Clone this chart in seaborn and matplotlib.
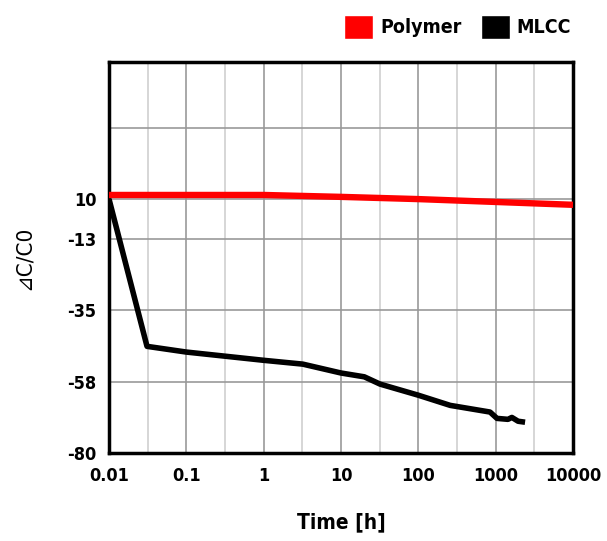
import numpy as np
import pandas as pd
import matplotlib
matplotlib.use("Agg")
import matplotlib.pyplot as plt
import seaborn as sns
from matplotlib.patches import Patch

# -------------------------------------------------------
# Data
# -------------------------------------------------------

polymer_time = [0.01, 1, 10, 100, 1000, 10000]
polymer_dc = [1.3, 1.3, 0.7, 0.0, -0.9, -1.8]

mlcc_time = [0.01, 0.031, 0.1, 1, 3.2, 10, 20, 32, 100, 258, 845, 1040, 1440, 1620, 1950, 2400]
mlcc_dc = [0.0, -46.4, -48.2, -50.8, -52.0, -54.8, -56.0, -58.3, -61.8, -65.0,
           -67.1, -69.1, -69.4, -68.8, -70.0, -70.3]

y_tick_pos = [0, -12.5, -35, -57.5, -80]
y_tick_labels = ["10", "-13", "-35", "-58", "-80"]
x_ticks = [0.01, 0.1, 1, 10, 100, 1000, 10000]
x_tick_labels = ["0.01", "0.1", "1", "10", "100", "1000", "10000"]

df_poly = pd.DataFrame({"time": polymer_time, "dc": polymer_dc})
df_mlcc = pd.DataFrame({"time": mlcc_time, "dc": mlcc_dc})

# -------------------------------------------------------
# Plot Style
# -------------------------------------------------------

sns.set_style("white")
plt.rcParams["font.family"] = ["DejaVu Sans"]
plt.rcParams["font.stretch"] = "condensed"
plt.rcParams["text.color"] = "black"
plt.rcParams["axes.labelcolor"] = "black"

fig = plt.figure(figsize=(6.07, 5.41), dpi=100)
ax = fig.add_axes([0.1796, 0.1627, 0.7644, 0.7227])

ax.set_xscale("log")
ax.set_xlim(0.01, 10000)
ax.set_ylim(-80, 43.2)

# grid lines
for k in range(-2, 4):
    ax.axvline(10 ** (k + 0.5), color="#d0d0d0", lw=1.2, zorder=0)
for k in range(-1, 4):
    ax.axvline(10 ** k, color="#999999", lw=1.2, zorder=0)
for yv in y_tick_pos[:-1] + [22.5]:
    ax.axhline(yv, color="#999999", lw=1.2, zorder=0)

sns.lineplot(data=df_poly, x="time", y="dc", color="#ff0000", lw=4.6, ax=ax,
             zorder=3, solid_capstyle="butt")
sns.lineplot(data=df_mlcc, x="time", y="dc", color="black", lw=4.0, ax=ax,
             zorder=4, solid_capstyle="butt")

ax.set_xticks(x_ticks)
ax.set_xticklabels(x_tick_labels)
ax.xaxis.set_minor_locator(matplotlib.ticker.NullLocator())
ax.set_yticks(y_tick_pos)
ax.set_yticklabels(y_tick_labels)

ax.tick_params(axis="both", labelsize=13, width=2.2, length=6, colors="black",
               pad=3)
ax.tick_params(axis="x", direction="inout", length=8, pad=6)
for lbl in ax.get_xticklabels() + ax.get_yticklabels():
    lbl.set_fontweight("bold")

for sp in ax.spines.values():
    sp.set_linewidth(2.5)
    sp.set_color("black")

ax.set_xlabel("Time [h]", fontsize=15, fontweight="bold", labelpad=20)
ax.set_ylabel("\u22bfC/C0", fontsize=16, labelpad=24)

handles = [Patch(facecolor="#ff0000", label="Polymer"),
           Patch(facecolor="black", label="MLCC")]
fig.legend(handles=handles, loc="center right", bbox_to_anchor=(0.957, 0.95),
           ncol=2, frameon=False, prop={"size": 14, "weight": "bold"},
           borderpad=0, handlelength=1.5, handleheight=1.5, handletextpad=0.35,
           columnspacing=1.0)

fig.savefig("out.png", dpi=100)
